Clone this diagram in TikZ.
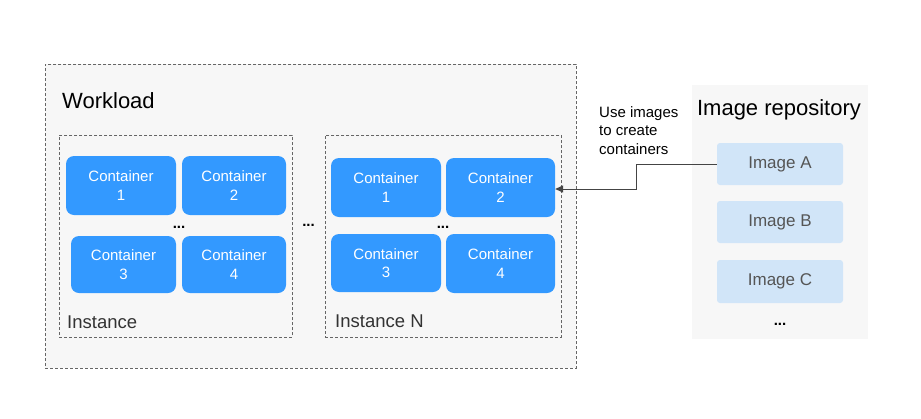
\documentclass[tikz,border=0pt]{standalone}
\usepackage{fontspec}
\setmainfont{Liberation Sans}
\usetikzlibrary{arrows.meta}
\definecolor{bgfill}{HTML}{F7F7F7}
\definecolor{dashgray}{HTML}{666666}
\definecolor{contblue}{HTML}{3399FF}
\definecolor{imgblue}{HTML}{D1E5F8}
\definecolor{imgtext}{HTML}{555555}
\definecolor{arrowgray}{HTML}{444444}
\tikzset{
  groupbox/.style={draw=dashgray, dashed, dash pattern=on 3pt off 2pt, line width=0.8pt, fill=bgfill, inner sep=0pt},
  container/.style={fill=contblue, rounded corners=8pt, inner sep=0pt, text=white, align=center,
    font=\fontsize{15}{18.5}\selectfont},
  imagebox/.style={fill=imgblue, rounded corners=3pt, inner sep=0pt, text=imgtext,
    minimum width=126pt, minimum height=42pt, font=\fontsize{17}{20}\selectfont},
  dots/.style={inner sep=0pt, font=\fontsize{15}{18}\bfseries\selectfont},
  conn/.style={draw=arrowgray, line width=0.9pt, -{Triangle[length=8pt,width=7pt]}},
}
\begin{document}
\begin{tikzpicture}[x=1pt,y=-1pt]
\useasboundingbox (0,0) rectangle (921,418);
% workload
\node[groupbox, minimum width=531pt, minimum height=304pt, anchor=north west] (workload) at (45,64) {};
\node[anchor=west, inner sep=0pt, font=\fontsize{22}{26}\selectfont] (wltitle) at (62,101) {Workload};
% instance 1
\node[groupbox, minimum width=233pt, minimum height=202pt, anchor=north west] (inst) at (59,135) {};
\node[anchor=west, inner sep=0pt, text=black!80, font=\fontsize{18.5}{22}\selectfont] (insttitle) at (67,322) {Instance};
\node[container, minimum width=110pt, minimum height=59pt] (a1) at (121,185.5) {Container\\1};
\node[container, minimum width=104pt, minimum height=59pt] (a2) at (234,185.5) {Container\\2};
\node[container, minimum width=105pt, minimum height=57pt] (a3) at (123.5,264.5) {Container\\3};
\node[container, minimum width=104pt, minimum height=57pt] (a4) at (234,264.5) {Container\\4};
\node[dots] (adots) at (179,227) {...};
% between
\node[dots] (mdots) at (308.5,225) {...};
% instance N
\node[groupbox, minimum width=236pt, minimum height=202pt, anchor=north west] (instn) at (325,135) {};
\node[anchor=west, inner sep=0pt, text=black!80, font=\fontsize{18.5}{22}\selectfont] (instntitle) at (335,321) {Instance N};
\node[container, minimum width=110pt, minimum height=59pt] (b1) at (386,187.5) {Container\\1};
\node[container, minimum width=109pt, minimum height=59pt] (b2) at (500.5,187.5) {Container\\2};
\node[container, minimum width=110pt, minimum height=58pt] (b3) at (386,263) {Container\\3};
\node[container, minimum width=109pt, minimum height=59pt] (b4) at (500.5,263.5) {Container\\4};
\node[dots] (bdots) at (443,227) {...};
% repository
\node[fill=bgfill, inner sep=0pt, minimum width=176pt, minimum height=254pt, anchor=north west] (repo) at (692,85) {};
\node[inner sep=0pt, font=\fontsize{22}{26}\selectfont] (repotitle) at (779,110) {Image repository};
\node[imagebox] (imga) at (780,164) {Image A};
\node[imagebox] (imgb) at (780,222) {Image B};
\node[imagebox, minimum height=43pt] (imgc) at (780,281.5) {Image C};
\node[dots] (rdots) at (780,324) {...};
% arrow
\draw[conn] (imga.west) -- +(-80,0) |- ([yshift=-1.5pt]b2.east);
\node[anchor=north west, inner sep=0pt, align=left, font=\fontsize{15}{18.5}\selectfont] (lbl) at (599,106) {Use images\\to create\\containers};
\end{tikzpicture}
\end{document}
